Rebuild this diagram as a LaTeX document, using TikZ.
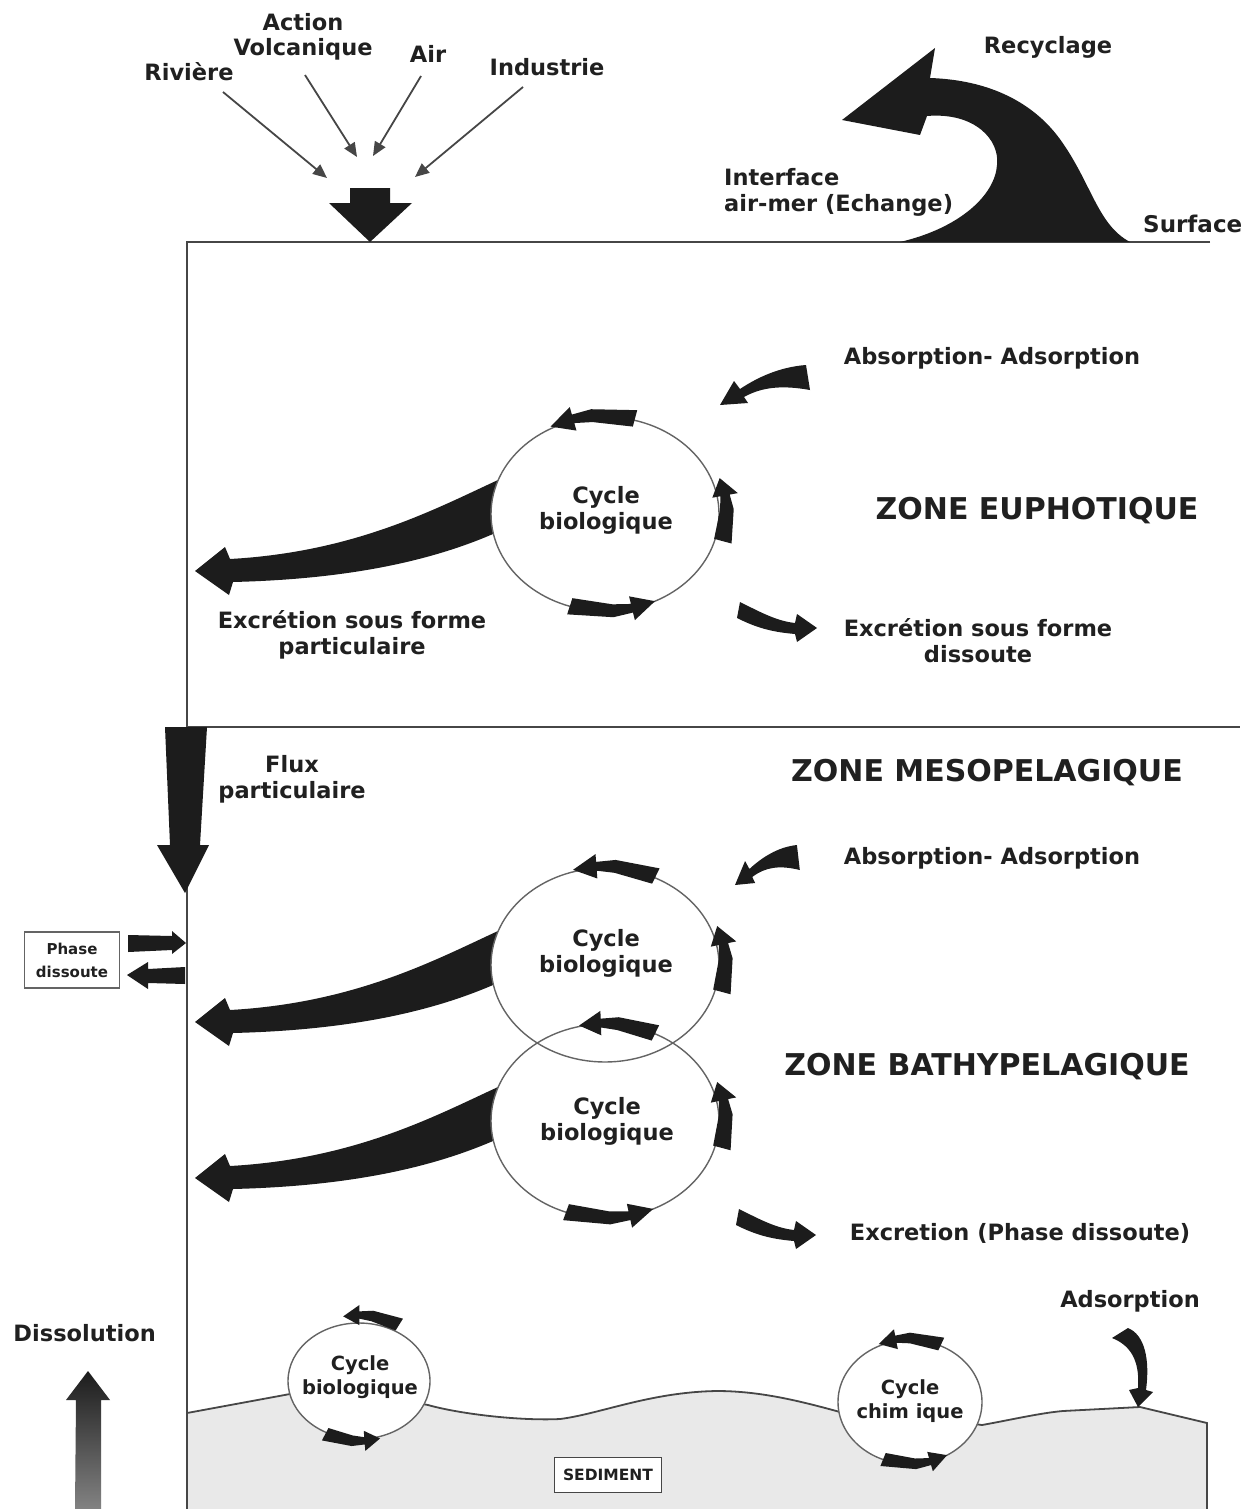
\documentclass[tikz,border=0pt]{standalone}
\usepackage{fontspec}
\setmainfont{DejaVu Sans}
\usetikzlibrary{arrows.meta}
\definecolor{ink}{RGB}{28,28,28}
\definecolor{linec}{RGB}{70,70,70}
\definecolor{circc}{RGB}{100,100,100}
\definecolor{sedfill}{RGB}{233,233,233}
\definecolor{txt}{RGB}{32,32,32}
\tikzset{
 lbl/.style={font=\bfseries\fontsize{22.5}{26}\selectfont, text=txt, align=center, inner sep=0pt},
 zonelbl/.style={font=\bfseries\fontsize{30}{34}\selectfont, text=txt, inner sep=0pt},
 sedlbl/.style={font=\bfseries\fontsize{19.5}{24}\selectfont, text=txt, align=center, inner sep=0pt},
 smalllbl/.style={font=\bfseries\fontsize{15}{23}\selectfont, text=txt, align=center, inner sep=0pt},
 zoneline/.style={draw=linec, line width=2pt},
 circline/.style={draw=circc, line width=1.4pt},
 sedline/.style={draw=linec, line width=1.8pt},
 thinarr/.style={draw=linec, line width=1.8pt, -{Triangle[length=14pt,width=12pt]}},
}
\newcommand\cycarrow[7]{%
 \pgfmathsetmacro\cam{#5+0.5*(#6-#5)}%
 \pgfmathsetmacro\cah{#5+0.72*(#6-#5)}%
 \fill[ink,shift={(#1,#2)}]
  (#5:{#3+0.5*#7} and {#4+0.5*#7})
  -- (\cam:{#3+0.38*#7} and {#4+0.38*#7})
  -- (\cah:{#3+0.26*#7} and {#4+0.26*#7})
  -- (\cah:{#3+0.72*#7} and {#4+0.72*#7})
  -- (#6:{#3} and {#4})
  -- (\cah:{#3-0.72*#7} and {#4-0.72*#7})
  -- (\cah:{#3-0.26*#7} and {#4-0.26*#7})
  -- (\cam:{#3-0.38*#7} and {#4-0.38*#7})
  -- (#5:{#3-0.5*#7} and {#4-0.5*#7}) -- cycle;}
\begin{document}
\begin{tikzpicture}[x=1pt,y=-1pt]
\useasboundingbox (0,0) rectangle (1260,1509);
\fill[white] (0,0) rectangle (1260,1509);

% ---------- sediment ----------
\fill[sedfill] (187,1413) -- (290,1394) -- (360,1392) -- (428,1405)
  .. controls (460,1414) and (520,1421) .. (560,1419)
  .. controls (600,1414) and (650,1392) .. (717,1391)
  .. controls (760,1391) and (800,1401) .. (840,1412)
  -- (910,1415) -- (982,1425)
  .. controls (1010,1420) and (1040,1413) .. (1063,1411)
  -- (1140,1407) -- (1207,1423) -- (1207,1509) -- (187,1509) -- cycle;
\draw[sedline] (187,1413) -- (290,1394) -- (360,1392) -- (428,1405)
  .. controls (460,1414) and (520,1421) .. (560,1419)
  .. controls (600,1414) and (650,1392) .. (717,1391)
  .. controls (760,1391) and (800,1401) .. (840,1412)
  -- (910,1415) -- (982,1425)
  .. controls (1010,1420) and (1040,1413) .. (1063,1411)
  -- (1140,1407) -- (1207,1423) -- (1207,1509);

% ---------- frame lines ----------
\draw[zoneline] (1210,242) -- (187,242) -- (187,1509);
\draw[zoneline] (187,727) -- (1240,727);

% ---------- inputs at the top ----------
\node[lbl] (riv) at (189,72) {Rivière};
\node[lbl, font=\bfseries\fontsize{22.5}{25}\selectfont] (act) at (303,37) {Action\\Volcanique};
\node[lbl] (air) at (428,54) {Air};
\node[lbl] (ind) at (547,67) {Industrie};
\coordinate (rivA) at (223,92);  \coordinate (rivB) at (327,178);
\coordinate (actA) at (305,75);  \coordinate (actB) at (357,157);
\coordinate (airA) at (421,76);  \coordinate (airB) at (373,156);
\coordinate (indA) at (523,87);  \coordinate (indB) at (415,177);
\draw[thinarr] (rivA) -- (rivB);
\draw[thinarr] (actA) -- (actB);
\draw[thinarr] (airA) -- (airB);
\draw[thinarr] (indA) -- (indB);
\fill[ink] (350,188) -- (390,188) -- (390,203) -- (412,203) -- (370,242) -- (329,203) -- (350,203) -- cycle;

% ---------- recyclage ----------
\fill[ink] (935,48) -- (842,120) -- (920,135) -- (927,116)
  .. controls (975,112) and (1000,140) .. (997,165)
  .. controls (995,195) and (960,228) .. (900,242)
  -- (1130,242)
  .. controls (1098,225) and (1092,185) .. (1062,142)
  .. controls (1035,103) and (990,80) .. (930,78) -- cycle;
\node[lbl] (rec) at (1048,47) {Recyclage};
\node[lbl, align=left, anchor=west] (inter) at (724,192) {Interface\\air-mer (Echange)};
\node[lbl, anchor=west, font=\bfseries\fontsize{23}{26}\selectfont] (surf) at (1143,224) {Surface};

% ---------- big excretion bands ----------
\foreach \cx/\cy in {605/514, 605/965, 605/1121}{
 \fill[ink, shift={(\cx,\cy)}] (-95,-34) -- (-107,-34)
   .. controls (-170,-5) and (-250,38) .. (-375,45)
   -- (-380,33) -- (-410,57) -- (-376,81) -- (-372,68)
   .. controls (-250,65) and (-170,45) .. (-112,20) -- (-95,20) -- cycle;
}

% ---------- circles ----------
\fill[white] (605,514) ellipse (114 and 97);
\fill[white] (605,965) ellipse (114 and 97);
\fill[white] (605,1121) ellipse (114 and 97);
\fill[white] (359,1381) ellipse (71 and 58);
\fill[white] (910,1402) ellipse (72 and 62);
\draw[circline] (605,514) ellipse (114 and 97);
\draw[circline] (605,965) ellipse (114 and 97);
\draw[circline] (605,1121) ellipse (114 and 97);
\draw[circline] (359,1381) ellipse (71 and 58);
\draw[circline] (910,1402) ellipse (72 and 62);

% circle arrows: cx cy a b tail tip width
\cycarrow{605}{514}{116}{99}{-75}{-118}{17}
\cycarrow{605}{514}{122}{105}{15}{-20}{18}
\cycarrow{605}{514}{114}{97}{108}{64}{17}
\cycarrow{605}{965}{116}{99}{-64}{-106}{17}
\cycarrow{605}{965}{121}{104}{15}{-22}{18}
\cycarrow{605}{1121}{115}{98}{-64}{-103}{17}
\cycarrow{605}{1121}{121}{104}{15}{-22}{18}
\cycarrow{605}{1121}{114}{97}{110}{65}{17}
\cycarrow{359}{1378}{76}{63}{-58}{-102}{14}
\cycarrow{359}{1383}{72}{58}{118}{73}{14}
\cycarrow{910}{1402}{74}{64}{-65}{-115}{14}
\cycarrow{910}{1402}{72}{62}{112}{59}{14}

\node[lbl] (cycE) at (606,510) {Cycle\\biologique};
\node[lbl] (cycM) at (606,953) {Cycle\\biologique};
\node[lbl] (cycB) at (607,1121) {Cycle\\biologique};
\node[sedlbl] (cycS) at (360,1377) {Cycle\\biologique};
\node[sedlbl] (cycC) at (910,1401) {Cycle\\chim ique};

% ---------- absorption / excretion arrows ----------
\fill[ink, shift={(720,405)}] (86,-40) .. controls (60,-38) and (38,-28) .. (20,-16)
  -- (14,-24) -- (0,0) -- (28,-2) -- (24,-8)
  .. controls (42,-18) and (62,-20) .. (90,-15) -- cycle;
\fill[ink, shift={(735,885)}, xscale=0.72] (86,-40) .. controls (60,-38) and (38,-28) .. (20,-16)
  -- (14,-24) -- (0,0) -- (28,-2) -- (24,-8)
  .. controls (42,-18) and (62,-20) .. (90,-15) -- cycle;
\foreach \tx/\ty in {817/628, 816/1235}{
 \fill[ink, shift={(\tx,\ty)}] (-77,-26) -- (-80,-10)
   .. controls (-60,0) and (-45,4) .. (-22,6)
   -- (-20,14) -- (0,0) -- (-20,-14) -- (-22,-5)
   .. controls (-40,-7) and (-55,-15) .. (-77,-26) -- cycle;
}
\fill[ink] (1112,1338) .. controls (1130,1345) and (1140,1360) .. (1138,1388)
  -- (1129,1390) -- (1138,1407) -- (1153,1392) -- (1146,1390)
  .. controls (1150,1360) and (1145,1335) .. (1128,1328) -- cycle;

\node[lbl] (abs1) at (992,358) {Absorption- Adsorption};
\node[zonelbl] (zeu) at (1037,511) {ZONE EUPHOTIQUE};
\node[lbl] (exp) at (352,635) {Excrétion sous forme\\particulaire};
\node[lbl] (exd) at (978,641) {Excrétion sous forme\\dissoute};
\node[zonelbl] (zme) at (987,773) {ZONE MESOPELAGIQUE};
\node[lbl] (abs2) at (992,858) {Absorption- Adsorption};
\node[zonelbl] (zba) at (987,1067) {ZONE BATHYPELAGIQUE};
\node[lbl] (exb) at (1020,1233) {Excretion (Phase dissoute)};
\node[lbl] (ads) at (1130,1301) {Adsorption};

% ---------- flux particulaire ----------
\fill[ink] (165,727) -- (207,727) -- (200,845) -- (209,845) -- (185,893) -- (157,845) -- (170,845) -- cycle;
\node[lbl] (flux) at (292,779) {Flux\\particulaire};

% ---------- phase dissoute ----------
\node[draw=circc, fill=white, line width=1.2pt, minimum width=95pt, minimum height=56pt, smalllbl] (phase) at (72,960) {Phase\\dissoute};
\fill[ink] (128,935) -- (172,936) -- (172,931) -- (186,943) -- (172,954) -- (172,950) -- (128,952) -- cycle;
\fill[ink] (185,967) -- (148,969) -- (148,962) -- (127,975) -- (148,989) -- (148,983) -- (185,984) -- cycle;

% ---------- dissolution ----------
\shade[top color=ink, bottom color=ink!55] (75,1509) -- (76,1400) -- (66,1400) -- (88,1371) -- (110,1400) -- (101,1400) -- (101,1509) -- cycle;
\node[lbl, anchor=east] (diss) at (156,1333) {Dissolution};

% ---------- sediment label ----------
\node[draw=linec, fill=white, line width=1.3pt, minimum width=107pt, minimum height=35pt, font=\bfseries\fontsize{15.5}{17}\selectfont, text=txt] (sed) at (608,1475) {SEDIMENT};
\end{tikzpicture}
\end{document}
